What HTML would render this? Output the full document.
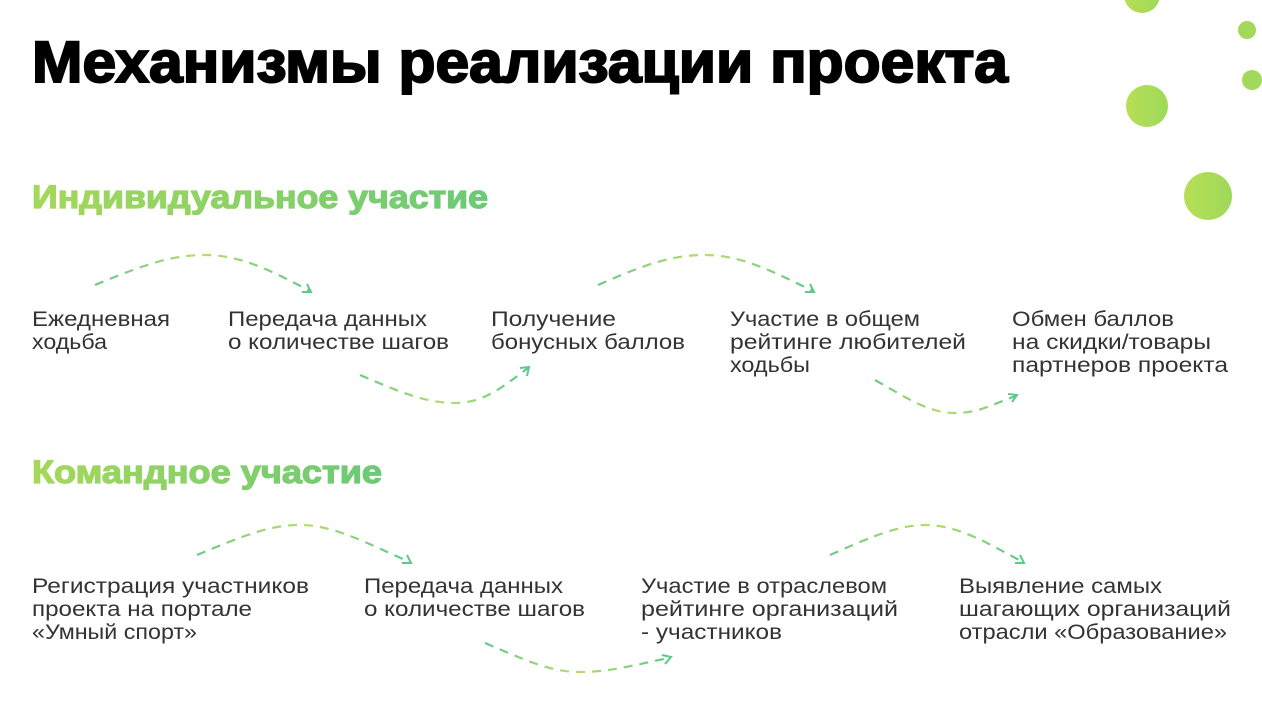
<!DOCTYPE html>
<html><head><meta charset="utf-8"><style>
html,body{margin:0;padding:0;background:#fff;}
svg{display:block;}
.t{font-family:"Liberation Sans",sans-serif;font-size:21px;fill:#333;}
.h{font-family:"Liberation Sans",sans-serif;font-weight:bold;font-size:32px;fill:url(#tg);stroke:url(#tg);stroke-width:1.2;}
.a{fill:none;stroke:url(#ag);stroke-width:2.2;stroke-dasharray:9 7;}
.ah{fill:none;stroke:#5cc98a;stroke-width:2;}
</style></head><body>
<svg width="1262" height="714" viewBox="0 0 1262 714" xmlns="http://www.w3.org/2000/svg">
<defs>
<linearGradient id="tg" x1="0" x2="1"><stop offset="0" stop-color="#a5d85a"/><stop offset="1" stop-color="#6cc977"/></linearGradient>
<linearGradient id="ag" x1="0" x2="1"><stop offset="0" stop-color="#6cc98a"/><stop offset="0.5" stop-color="#b8dd6a"/><stop offset="1" stop-color="#5cc98a"/></linearGradient>
<linearGradient id="cg" x1="0" x2="1"><stop offset="0" stop-color="#b8df55"/><stop offset="1" stop-color="#9ed95a"/></linearGradient>
</defs>
<circle cx="1142" cy="-5" r="18" fill="url(#cg)"/>
<circle cx="1247" cy="30" r="9" fill="#a3d95a"/>
<circle cx="1252" cy="80" r="10" fill="#a3d95a"/>
<circle cx="1147" cy="106" r="21" fill="url(#cg)"/>
<circle cx="1208" cy="196" r="24" fill="url(#cg)"/>

<text x="32" y="82" font-family="Liberation Sans,sans-serif" font-weight="bold" font-size="58" fill="#000" stroke="#000" stroke-width="2" textLength="976" lengthAdjust="spacingAndGlyphs">Механизмы реализации проекта</text>
<text class="h" x="32" y="208" textLength="456" lengthAdjust="spacingAndGlyphs">Индивидуальное участие</text>
<text class="h" x="32" y="483" textLength="350" lengthAdjust="spacingAndGlyphs">Командное участие</text>

<g class="t">
<text x="32" y="326" textLength="138" lengthAdjust="spacingAndGlyphs">Ежедневная</text>
<text x="32" y="349" textLength="75" lengthAdjust="spacingAndGlyphs">ходьба</text>
<text x="228" y="326" textLength="199" lengthAdjust="spacingAndGlyphs">Передача данных</text>
<text x="228" y="349" textLength="221" lengthAdjust="spacingAndGlyphs">о количестве шагов</text>
<text x="491" y="326" textLength="125" lengthAdjust="spacingAndGlyphs">Получение</text>
<text x="491" y="349" textLength="194" lengthAdjust="spacingAndGlyphs">бонусных баллов</text>
<text x="730" y="326" textLength="190" lengthAdjust="spacingAndGlyphs">Участие в общем</text>
<text x="730" y="349" textLength="236" lengthAdjust="spacingAndGlyphs">рейтинге любителей</text>
<text x="730" y="372" textLength="80" lengthAdjust="spacingAndGlyphs">ходьбы</text>
<text x="1012" y="326" textLength="162" lengthAdjust="spacingAndGlyphs">Обмен баллов</text>
<text x="1012" y="349" textLength="199" lengthAdjust="spacingAndGlyphs">на скидки/товары</text>
<text x="1012" y="372" textLength="216" lengthAdjust="spacingAndGlyphs">партнеров проекта</text>

<text x="32" y="593" textLength="277" lengthAdjust="spacingAndGlyphs">Регистрация участников</text>
<text x="32" y="616" textLength="220" lengthAdjust="spacingAndGlyphs">проекта на портале</text>
<text x="32" y="639" textLength="165" lengthAdjust="spacingAndGlyphs">«Умный спорт»</text>
<text x="364" y="593" textLength="199" lengthAdjust="spacingAndGlyphs">Передача данных</text>
<text x="364" y="616" textLength="221" lengthAdjust="spacingAndGlyphs">о количестве шагов</text>
<text x="641" y="593" textLength="246" lengthAdjust="spacingAndGlyphs">Участие в отраслевом</text>
<text x="641" y="616" textLength="257" lengthAdjust="spacingAndGlyphs">рейтинге организаций</text>
<text x="641" y="639" textLength="141" lengthAdjust="spacingAndGlyphs">- участников</text>
<text x="959" y="593" textLength="203" lengthAdjust="spacingAndGlyphs">Выявление самых</text>
<text x="959" y="616" textLength="272" lengthAdjust="spacingAndGlyphs">шагающих организаций</text>
<text x="959" y="639" textLength="268" lengthAdjust="spacingAndGlyphs">отрасли «Образование»</text>
</g>

<path class="a" d="M95,285 C150,262 175,255 205,255 C240,255 270,270 310,291"/>
<path class="ah" d="M302,292 L311,292 L307,284"/>
<path class="a" d="M360,375 C400,392 425,403 455,403 C485,403 505,385 528,368"/>
<path class="ah" d="M520,368 L529,367 L527,376"/>
<path class="a" d="M598,285 C650,262 675,255 705,255 C740,255 770,270 813,291"/>
<path class="ah" d="M805,292 L814,292 L810,284"/>
<path class="a" d="M875,380 C910,400 930,413 955,413 C980,413 995,403 1016,396"/>
<path class="ah" d="M1008,394 L1017,395 L1012,402"/>

<path class="a" d="M197,555 C245,535 270,525 300,525 C335,525 370,545 410,562"/>
<path class="ah" d="M402,563 L411,563 L407,555"/>
<path class="a" d="M485,643 C525,660 550,672 580,672 C615,672 645,662 670,658"/>
<path class="ah" d="M662,655 L671,657 L665,664"/>
<path class="a" d="M830,555 C875,535 900,525 925,525 C960,525 990,545 1023,562"/>
<path class="ah" d="M1015,563 L1024,563 L1020,555"/>
</svg>
</body></html>
